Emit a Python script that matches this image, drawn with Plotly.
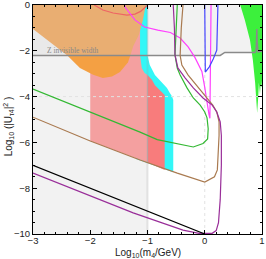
import plotly.graph_objects as go

# ---------------- data ----------------
# Z invisible width line
z_x = [-3.0, 0.27, 0.35, 0.88, 0.9, 0.905, 0.91, 0.915, 0.93, 1.0]
z_y = [-2.2, -2.2, -2.07, -2.07, -1.9, -1.6, -1.05, -1.6, -2.05, -2.02]

# shaded regions (boundary vertices in data units)
cyan_x = [-1.2, -1.0, -1.0, -0.96, -0.87, -0.75, -0.66, -0.61, -0.57, -0.55, -0.55, -1.2]
cyan_y = [0.0, 0.0, -2.2, -2.62, -3.06, -3.4, -3.62, -3.84, -4.0, -4.15, -7.3, -6.72]

pinkL_x = [-2.0, -1.13, -1.13, -1.1, -1.05, -1.0, -1.0, -2.0]
pinkL_y = [0.0, 0.0, -2.18, -2.75, -2.97, -3.06, -6.88, -5.94]
pinkR_x = [-1.0, -0.92, -0.87, -0.82, -0.75, -0.7, -0.7, -1.0]
pinkR_y = [-3.06, -3.28, -3.5, -3.62, -3.8, -3.93, -7.2, -6.88]

orangeU_x = [-3.0, -1.03, -1.08, -1.15, -1.25, -1.3, -2.4, -3.0]
orangeU_y = [0.0, 0.0, -0.65, -1.3, -1.8, -2.2, -2.2, -1.05]
orangeL_x = [-1.3, -1.34, -1.48, -1.62, -1.78, -1.95, -2.18, -2.35, -2.4]
orangeL_y = [-2.2, -2.5, -2.93, -3.12, -3.19, -3.05, -2.75, -2.31, -2.2]

greenR_x = [0.62, 0.70, 0.79, 0.84, 0.88, 0.90, 0.915, 0.935, 0.945, 0.965, 0.975, 0.99, 1.0, 1.0]
greenR_y = [0.0, -0.65, -1.53, -2.4, -3.4, -4.2, -4.72, -4.0, -3.4, -3.9, -3.5, -3.6, -3.3, 0.0]

# curves
red_x = [-1.93, -1.85, -1.78, -1.6, -1.45, -1.36, -1.22, -1.12, -1.0]
red_y = [0.0, -0.12, -0.22, -0.35, -0.42, -0.44, -0.4, -0.28, 0.0]

mag_x = [-1.4, -1.39, -1.22, -1.05, -0.82, -0.6, -0.43, -0.29, -0.17, -0.05, 0.0, 0.04, 0.075, 0.09, 0.1, 0.11]
mag_y = [0.0, -0.1, -0.65, -0.96, -1.1, -1.2, -1.44, -1.83, -2.3, -2.9, -3.6, -4.35, -4.8, -4.95, -3.0, 0.0]

blue_x = [0.0, 0.0, 0.01, 0.08, 0.15, 0.21, 0.225, 0.23]
blue_y = [0.0, -2.5, -2.93, -2.7, -2.35, -1.97, -1.0, 0.0]

green_x = [-0.48, -0.5, -0.52, -0.48, -0.43, -0.31, -0.2, -0.08, 0.0, 0.04, 0.06, 0.05, -0.03,
           -0.2, -0.55, -0.83, -1.13, -2.0, -3.0]
green_y = [0.0, -1.0, -2.18, -2.75, -3.06, -3.62, -4.06, -4.37, -4.67, -4.93, -5.4, -5.85, -6.05,
           -6.2, -6.03, -5.88, -5.55, -4.67, -3.67]

brown_x = [-0.38, -0.41, -0.43, -0.4, -0.29, -0.14, 0.04, 0.14, 0.21, 0.25, 0.25, 0.23, 0.22,
           0.17, 0.0, -0.48, -1.13, -2.0, -3.0]
brown_y = [0.0, -1.0, -2.2, -2.62, -3.06, -3.5, -4.06, -4.37, -4.67, -5.1, -5.7, -6.5, -7.2,
           -7.5, -7.73, -7.34, -6.77, -5.94, -4.9]

purple_x = [-0.55, -0.53, -0.52, -0.47, -0.34, -0.2, -0.03, 0.13, 0.21, 0.27, 0.29, 0.29, 0.27,
            0.24, 0.2, 0.13, -0.1, -0.38, -1.25, -2.0, -3.0]
purple_y = [0.0, -1.0, -2.18, -2.75, -3.19, -3.62, -4.06, -4.37, -4.67, -5.1, -5.7, -7.0, -8.5,
            -9.5, -9.85, -9.97, -9.97, -9.83, -9.08, -8.33, -7.34]

black_x = [-3.0, 0.0]
black_y = [-7.0, -10.0]

x_ticks = [-3, -2, -1, 0, 1]
y_ticks = [-10, -8, -6, -4, -2, 0]

# ---------------- figure ----------------
fig = go.Figure()


def fill(xs, ys, color):
    fig.add_trace(go.Scatter(x=xs, y=ys, mode="lines", fill="toself", fillcolor=color,
                             line=dict(width=0, color=color), hoverinfo="skip", showlegend=False))


def curve(xs, ys, color, width=1.2, dash="solid", xa="x", ya="y"):
    fig.add_trace(go.Scatter(x=xs, y=ys, mode="lines", line=dict(color=color, width=width, dash=dash),
                             hoverinfo="skip", showlegend=False, xaxis=xa, yaxis=ya))


# gray excluded regions
fill(z_x + [1.0, -3.0], z_y + [0.0, 0.0], "#f2f2f2")
fill([-3.0, -1.0, -1.0, -3.0], [-10.0, -10.0, z_y[0], z_y[0]], "#f2f2f2")
fill([-3.0, -1.0, -1.0, -3.0], [z_y[0], z_y[0], 0.0, 0.0], "#e9e9e9")

# coloured regions
fill(cyan_x, cyan_y, "#33f7f7")
fill(pinkL_x, pinkL_y, "#f4a0a0")
fill(pinkR_x, pinkR_y, "#f87c7c")
fill(orangeU_x, orangeU_y, "#e9ae72")
fill(orangeL_x, orangeL_y, "#f4a043")
fill(greenR_x, greenR_y, "#3cf03c")

# reference lines
curve([0.0, 0.0], [-10.0, 0.0], "#e2e2e2", 1, "dot")
curve([-3.0, 1.0], [-4.0, -4.0], "#e2e2e2", 1, "dot")
curve([-1.0, -1.0], [-10.0, 0.0], "rgba(160,160,160,0.25)", 2)

# Z invisible width
curve(z_x, z_y, "#8a8a8a", 1.5)

# curves
curve(red_x, red_y, "#ee6464")
curve(mag_x, mag_y, "#ff40ff")
curve(blue_x, blue_y, "#4646ff")
curve(green_x, green_y, "#33b833")
curve(brown_x, brown_y, "#a97a50")
curve(purple_x, purple_y, "#992e99")
# black line drawn on the overlay axes (same ranges) which carry the minor ticks
curve(black_x, black_y, "#000000", xa="x2", ya="y2")

fig.add_annotation(x=-2.77, y=z_y[0], text="Z invisible width", showarrow=False,
                   xanchor="left", yanchor="bottom", yshift=-1, borderpad=0,
                   font=dict(family="Liberation Serif", size=7.5, color="#888888"))

# axis titles
fig.add_annotation(xref="paper", yref="paper", x=0.5, y=0, xanchor="center", yanchor="top",
                   yshift=-12, showarrow=False, borderpad=0,
                   text="Log<sub>10</sub>(m<sub>4</sub>/GeV)",
                   font=dict(family="Liberation Sans", size=10, color="#222222"))
fig.add_annotation(xref="paper", yref="paper", x=0, y=0.47, xanchor="center", yanchor="middle",
                   xshift=-25, textangle=-90, showarrow=False, borderpad=0,
                   text="Log<sub>10</sub> (|U<sub>τ4</sub>|<sup>2</sup> )",
                   font=dict(family="Liberation Sans", size=10, color="#222222"))

axis_common = dict(showline=True, linecolor="black", linewidth=1, mirror="ticks",
                   ticks="inside", ticklen=4, tickcolor="black", showgrid=False, zeroline=False,
                   automargin=False, ticklabeloverflow="allow",
                   tickfont=dict(family="Liberation Sans", size=9.5, color="#222222"))

minor_common = dict(showline=False, ticks="inside", ticklen=2, tickcolor="black", mirror="ticks",
                    showticklabels=False, showgrid=False, zeroline=False, automargin=False)

fig.update_layout(
    template="none",
    width=266, height=259,
    margin=dict(l=33, r=4, t=5, b=25),
    paper_bgcolor="white", plot_bgcolor="white",
    showlegend=False,
    xaxis=dict(range=[-3, 1], tickvals=x_ticks, ticklabelstandoff=-2, **axis_common),
    yaxis=dict(range=[-10, 0], tickvals=y_ticks, **axis_common),
    xaxis2=dict(range=[-3, 1], overlaying="x", anchor="y2", dtick=0.2, tick0=-3, **minor_common),
    yaxis2=dict(range=[-10, 0], overlaying="y", anchor="x2", dtick=0.5, tick0=-10, **minor_common),
)

fig.write_html("out.html", config={"displayModeBar": False},
               post_script="document.body.style.margin='0';document.body.style.overflow='hidden';")
